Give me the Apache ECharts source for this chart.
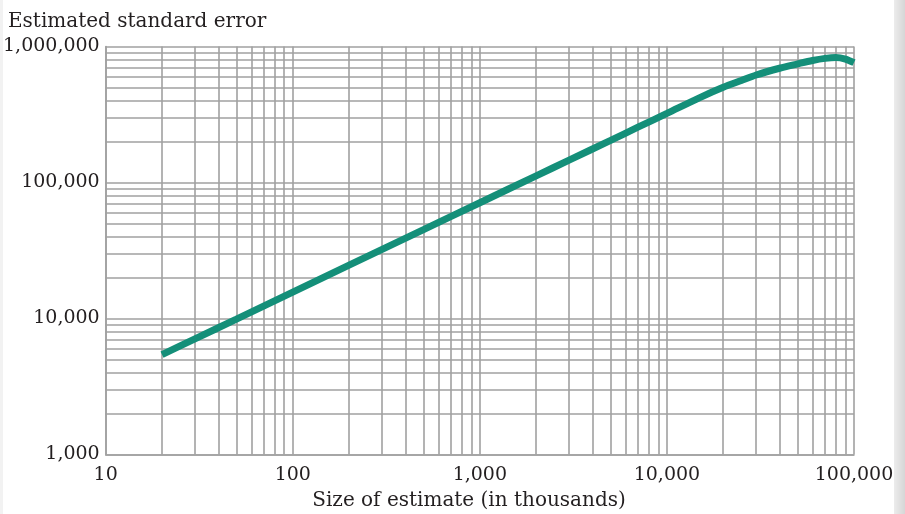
<!DOCTYPE html>
<html>
<head>
<meta charset="utf-8">
<script src="https://cdn.jsdelivr.net/npm/echarts@6/dist/echarts.min.js"></script>
<style>
html,body{margin:0;padding:0;background:#fff;}
#chart{width:905px;height:514px;}
</style>
</head>
<body>
<div id="chart"></div>
<script>
// ---- data ----
const sizeOfEstimate = [20, 30, 50, 100, 200, 500, 1000, 2000, 3000, 5000, 7000, 10000, 15000, 20000, 25000, 30000, 40000, 50000, 60000, 70000, 80000, 90000, 100000];
const standardError  = [5430, 7080, 9900, 15630, 24650, 44980, 71000, 112000, 146000, 204000, 255000, 322000, 421000, 501000, 562000, 617000, 692000, 745000, 789000, 818000, 830000, 808000, 760000];
const xDecades = [10, 100, 1000, 10000, 100000];
const yDecades = [1000, 10000, 100000, 1000000];
const xTickLabels = ['10', '100', '1,000', '10,000', '100,000'];
const yTickLabels = ['1,000', '10,000', '100,000', '1,000,000'];
const yTitle = 'Estimated standard error';
const xTitle = 'Size of estimate (in thousands)';
const minorMultipliers = [1, 2, 3, 4, 5, 6, 7, 8, 9];

// gridline positions (every 1..9 multiple of each decade)
function gridValues(decades) {
  const out = [];
  for (let i = 0; i < decades.length; i++) {
    if (i === decades.length - 1) { out.push(decades[i]); break; }
    for (const m of minorMultipliers) out.push(decades[i] * m);
  }
  return out;
}
const xGrid = gridValues(xDecades);
const yGrid = gridValues(yDecades);

const FONT = 'DejaVu Serif';
const TXT = '#231f20';
const GRID = '#a0a0a0';

const chart = echarts.init(document.getElementById('chart'), null, {renderer: 'canvas'});
chart.setOption({
  animation: false,
  backgroundColor: '#ffffff',
  grid: {left: 105, right: 51, top: 46.5, bottom: 59.5, containLabel: false},
  xAxis: {
    type: 'log', logBase: 10, min: xDecades[0], max: xDecades[xDecades.length - 1], splitNumber: 4,
    axisLine: {show: true, lineStyle: {color: GRID, width: 1.6}},
    axisTick: {show: false},
    splitLine: {show: false},
    axisLabel: {
      margin: 11, fontFamily: FONT, fontSize: 19, color: TXT,
      formatter: v => { const i = xDecades.indexOf(Math.round(v)); return i >= 0 ? xTickLabels[i] : ''; }
    }
  },
  yAxis: {
    type: 'log', logBase: 10, min: yDecades[0], max: yDecades[yDecades.length - 1], splitNumber: 3,
    axisLine: {show: true, lineStyle: {color: GRID, width: 1.6}},
    axisTick: {show: false},
    splitLine: {show: false},
    axisLabel: {
      margin: 6, fontFamily: FONT, fontSize: 19, color: TXT,
      formatter: v => { const i = yDecades.indexOf(Math.round(v)); return i >= 0 ? yTickLabels[i] : ''; }
    }
  },
  graphic: [
    {type: 'rect', left: 894, top: 0, shape: {width: 11, height: 514}, style: {fill: new echarts.graphic.LinearGradient(0,0,1,0,[{offset:0,color:'#ececec'},{offset:1,color:'#d6d6d6'}])}, silent: true},
    {type: 'rect', left: 0, top: 0, shape: {width: 3, height: 514}, style: {fill: '#f2f2f2'}, silent: true},
    {type: 'text', x: 8, y: 22, style: {text: yTitle, font: '20px "' + FONT + '"', fill: TXT, textAlign: 'left', textVerticalAlign: 'middle'}},
    {type: 'text', x: 469, y: 501, style: {text: xTitle, font: '20px "' + FONT + '"', fill: TXT, textAlign: 'center', textVerticalAlign: 'middle'}}
  ],
  series: [
    {
      type: 'line', data: [], silent: true,
      markLine: {
        silent: true, symbol: 'none', label: {show: false},
        lineStyle: {type: 'solid', color: GRID, width: 1.6},
        emphasis: {disabled: true},
        data: xGrid.map(v => ({xAxis: v})).concat(yGrid.map(v => ({yAxis: v})))
      }
    },
    {
      type: 'line', name: yTitle,
      data: sizeOfEstimate.map((x, i) => [x, standardError[i]]),
      showSymbol: false, smooth: 0.3, silent: true,
      lineStyle: {color: '#148f79', width: 7, cap: 'butt'},
      z: 5
    }
  ]
});
</script>
</body>
</html>
